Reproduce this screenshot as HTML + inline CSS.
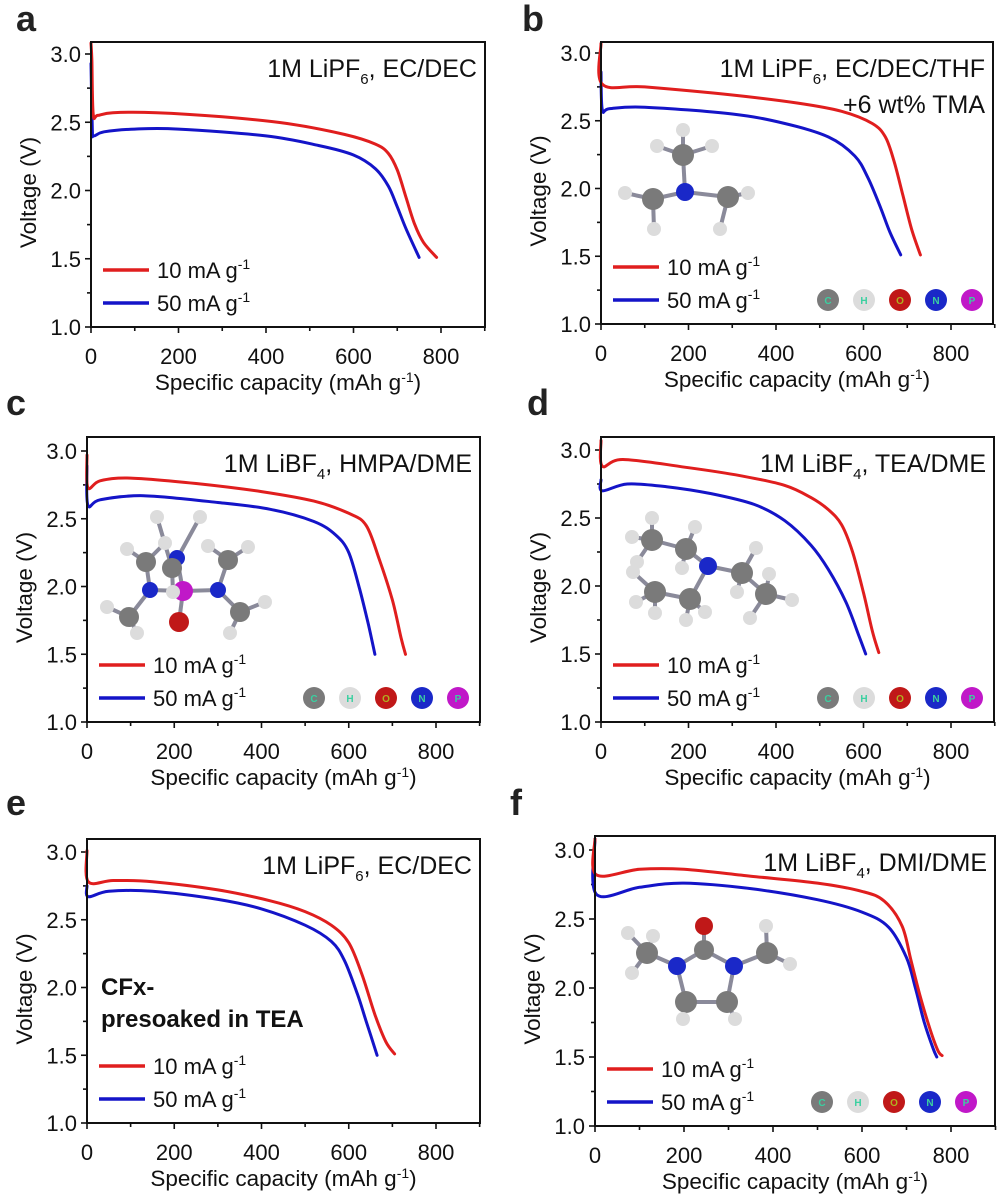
<!DOCTYPE html>
<html><head><meta charset="utf-8"><style>
html,body{margin:0;padding:0;background:#fff;}
svg{display:block;font-family:"Liberation Sans",Arial,sans-serif;}
</style></head><body>
<svg id="fig" width="1003" height="1199" viewBox="0 0 1003 1199" xmlns="http://www.w3.org/2000/svg"></svg>
<script>
// ---- data (capacity mAh/g, voltage V) ----
const xTicks = [0,200,400,600,800];
const yTicks = [1.0,1.5,2.0,2.5,3.0];
const seriesLabels = ["10 mA g","50 mA g"];
const panelLetters = ["a","b","c","d","e","f"];

const capA10 = [0,2,5,15,50,150,300,450,580,650,680,700,720,740,760,790];
const voltA10 = [3.08,2.95,2.56,2.55,2.57,2.57,2.54,2.49,2.41,2.34,2.27,2.15,1.95,1.75,1.62,1.51];
const capA50 = [0,3,6,30,100,200,400,520,600,650,680,700,720,750];
const voltA50 = [2.93,2.45,2.40,2.43,2.45,2.45,2.40,2.33,2.26,2.16,2.03,1.88,1.72,1.51];

const capB10 = [0,3,100,300,450,550,620,650,670,690,710,730];
const voltB10 = [3.07,2.77,2.75,2.69,2.63,2.57,2.48,2.38,2.2,1.95,1.7,1.51];
const capB50 = [0,3,20,100,300,420,520,580,610,640,660,685];
const voltB50 = [2.86,2.58,2.59,2.6,2.55,2.48,2.38,2.24,2.08,1.85,1.68,1.51];

const capC10 = [0,2,30,100,250,400,520,600,640,670,700,720,730];
const voltC10 = [2.97,2.73,2.78,2.80,2.76,2.70,2.63,2.54,2.45,2.2,1.9,1.62,1.5];
const capC50 = [0,2,30,130,300,420,520,570,600,625,645,660];
const voltC50 = [2.89,2.6,2.64,2.67,2.62,2.57,2.48,2.38,2.25,1.98,1.72,1.5];

const capD10 = [0,3,50,200,320,420,480,520,550,575,600,620,635];
const voltD10 = [3.07,2.88,2.93,2.87,2.81,2.74,2.65,2.56,2.45,2.25,1.95,1.67,1.51];
const capD50 = [0,3,60,150,250,350,420,480,520,560,590,605];
const voltD50 = [2.78,2.7,2.75,2.73,2.68,2.6,2.48,2.3,2.12,1.88,1.63,1.5];

const capE10 = [0,3,60,150,300,420,500,560,600,630,660,685,705];
const voltE10 = [3.01,2.78,2.79,2.78,2.72,2.64,2.56,2.46,2.33,2.1,1.8,1.6,1.51];
const capE50 = [0,3,50,150,300,400,500,560,590,620,640,665];
const voltE50 = [2.75,2.67,2.71,2.71,2.65,2.58,2.46,2.34,2.2,1.95,1.75,1.5];

const capF10 = [0,3,100,200,350,500,600,650,690,710,730,750,770,780];
const voltF10 = [3.08,2.82,2.86,2.86,2.81,2.76,2.70,2.63,2.45,2.2,1.95,1.73,1.55,1.51];
const capF50 = [0,3,100,200,350,500,600,660,700,720,740,760,768];
const voltF50 = [3.08,2.68,2.73,2.76,2.72,2.64,2.55,2.44,2.22,2.0,1.75,1.56,1.5];

// ---- layout ----
const panels = [
 {L:91,R:485,top:42,y1:327,y3:54,x8:441,red:[capA10,voltA10],blue:[capA50,voltA50],note:["LiPF","6",", EC/DEC"],atoms:false,mol:null,lx:16,ly:31},
 {L:601,R:993,top:42,y1:324,y3:53,x8:951,red:[capB10,voltB10],blue:[capB50,voltB50],note:["LiPF","6",", EC/DEC/THF"],note2:"+6 wt% TMA",atoms:true,mol:"tma",lx:522,ly:31},
 {L:87,R:480,top:437,y1:722,y3:451,x8:436,red:[capC10,voltC10],blue:[capC50,voltC50],note:["LiBF","4",", HMPA/DME"],atoms:true,mol:"hmpa",lx:6,ly:415},
 {L:601,R:994,top:437,y1:722,y3:450,x8:951,red:[capD10,voltD10],blue:[capD50,voltD50],note:["LiBF","4",", TEA/DME"],atoms:true,mol:"tea",lx:527,ly:415},
 {L:87,R:480,top:839,y1:1123,y3:852,x8:436,red:[capE10,voltE10],blue:[capE50,voltE50],note:["LiPF","6",", EC/DEC"],atoms:false,mol:null,cfx:true,lx:6,ly:815},
 {L:595,R:995,top:836,y1:1126,y3:850,x8:951,red:[capF10,voltF10],blue:[capF50,voltF50],note:["LiBF","4",", DMI/DME"],atoms:true,mol:"dmi",lx:510,ly:815}
];

const NS="http://www.w3.org/2000/svg";
const svg=document.getElementById('fig');
function mk(tag,attrs,parent){const e=document.createElementNS(NS,tag);for(const k in attrs)e.setAttribute(k,attrs[k]);(parent||svg).appendChild(e);return e;}

function smoothPath(pts){
  let d=`M${pts[0][0].toFixed(1)},${pts[0][1].toFixed(1)}`;
  for(let i=0;i<pts.length-1;i++){
    const p0=pts[i-1]||pts[i],p1=pts[i],p2=pts[i+1],p3=pts[i+2]||p2;
    const c1=[p1[0]+(p2[0]-p0[0])/6,p1[1]+(p2[1]-p0[1])/6];
    const c2=[p2[0]-(p3[0]-p1[0])/6,p2[1]-(p3[1]-p1[1])/6];
    d+=` C${c1[0].toFixed(1)},${c1[1].toFixed(1)} ${c2[0].toFixed(1)},${c2[1].toFixed(1)} ${p2[0].toFixed(1)},${p2[1].toFixed(1)}`;
  }
  return d;
}

const atomColors={C:"#7a7a7a",H:"#dcdcdc",O:"#c01818",N:"#1a28c8",P:"#c018c8"};
function ball(g,x,y,r,el){
  const c=mk('circle',{cx:x,cy:y,r:r,fill:atomColors[el]},g);
  
  
}
function bond(g,x1,y1,x2,y2,col){mk('line',{x1,y1,x2,y2,stroke:col||"#999",'stroke-width':4},g);}

function drawMol(g,type){
  let atoms=[],bonds=[];
  if(type==="tma"){
    atoms=[["N",685,192,9],["C",683,155,11],["C",653,199,11],["C",728,197,11],
      ["H",683,130,7],["H",657,146,7],["H",712,146,7],["H",625,193,7],["H",654,229,7],["H",748,193,7],["H",720,229,7]];
    bonds=[[0,1],[0,2],[0,3],[1,4],[1,5],[1,6],[2,7],[2,8],[3,9],[3,10]];
  } else if(type==="hmpa"){
    atoms=[["P",183,591,10],["O",179,622,10],["N",150,590,8],["N",218,590,8],["N",177,558,8],
      ["C",146,562,10],["C",129,617,10],["C",228,560,10],["C",240,612,10],["C",172,568,10],
      ["H",157,517,7],["H",200,517,7],["H",127,549,7],["H",165,543,7],["H",107,607,7],["H",137,633,7],["H",208,546,7],["H",248,547,7],["H",265,602,7],["H",230,633,7],["H",173,592,7]];
    bonds=[[0,1],[0,2],[0,3],[0,4],[2,5],[2,6],[3,7],[3,8],[4,9],[5,12],[5,13],[6,14],[6,15],[7,16],[7,17],[8,18],[8,19],[9,10],[9,11],[9,20]];
  } else if(type==="tea"){
    atoms=[["N",708,566,9],["C",686,549,11],["C",652,540,11],["C",690,599,11],["C",655,592,11],["C",742,573,11],["C",766,594,11],
      ["H",695,527,7],["H",682,568,7],["H",652,518,7],["H",632,537,7],["H",637,562,7],["H",633,572,7],["H",655,613,7],["H",636,602,7],["H",686,620,7],["H",705,612,7],["H",756,548,7],["H",737,592,7],["H",769,574,7],["H",792,600,7],["H",750,618,7]];
    bonds=[[0,1],[1,2],[0,3],[3,4],[0,5],[5,6],[1,7],[1,8],[2,9],[2,10],[2,11],[4,12],[4,13],[4,14],[3,15],[3,16],[5,17],[5,18],[6,19],[6,20],[6,21]];
  } else if(type==="dmi"){
    atoms=[["O",704,926,9],["C",704,950,10],["N",677,966,9],["N",734,966,9],["C",686,1002,11],["C",727,1002,11],["C",647,953,11],["C",767,953,11],
      ["H",653,936,7],["H",628,933,7],["H",632,973,7],["H",766,926,7],["H",790,964,7],["H",683,1019,7],["H",735,1019,7]];
    bonds=[[0,1],[1,2],[1,3],[2,4],[3,5],[4,5],[2,6],[3,7],[6,8],[6,9],[6,10],[7,11],[7,12],[4,13],[5,14]];
  }
  bonds.forEach(b=>bond(g,atoms[b[0]][1],atoms[b[0]][2],atoms[b[1]][1],atoms[b[1]][2],"#8a8a9a"));
  atoms.forEach(a=>ball(g,a[1],a[2],a[3],a[0]));
}

panels.forEach((p,i)=>{
  const g=mk('g',{});
  
  
  const sx=v=>p.L+(v/800)*(p.x8-p.L);
  const sy=v=>p.y1-(v-1)/2*(p.y1-p.y3);

  const lt=mk('text',{x:p.lx,y:p.ly,'font-size':36,'font-weight':'bold',fill:'#222'},g);
  lt.textContent=panelLetters[i];
  
  

  if(p.mol){const mg=mk('g',{},g);drawMol(mg,p.mol);}

  const ax=mk('g',{stroke:'#111','stroke-width':1.6},g);
  
  
  for(let v=0;v<=900;v+=100){const x=sx(v);mk('line',{x1:x,x2:x,y1:p.y1,y2:p.y1+(v%200===0?6:4)},ax);}
  for(let v=1.0;v<=3.01;v+=0.25){const y=sy(v);mk('line',{x1:p.L,x2:p.L-(Math.abs(v*2-Math.round(v*2))<0.01?6:4),y1:y,y2:y},ax);}
  xTicks.forEach(v=>{const t=mk('text',{x:sx(v),y:p.y1+37,'font-size':22,'text-anchor':'middle',fill:'#111'},g);t.textContent=v;
    });
  yTicks.forEach(v=>{const t=mk('text',{x:p.L-10,y:sy(v)+8,'font-size':22,'text-anchor':'end',fill:'#111'},g);t.textContent=v.toFixed(1);
    });

  const xt=mk('text',{x:(p.L+p.R)/2,y:p.y1+63,'font-size':22.5,'text-anchor':'middle',fill:'#111'},g);
  xt.innerHTML='Specific capacity (mAh g<tspan dy="-8" font-size="14">-1</tspan><tspan dy="8">)</tspan>';
  
  const ycx=p.L-55,ycy=(p.top+p.y1)/2+8;
  const yt=mk('text',{x:ycx,y:ycy,'font-size':22.5,'text-anchor':'middle',fill:'#111',transform:`rotate(-90 ${ycx} ${ycy})`},g);
  yt.textContent='Voltage (V)';
  

  [[p.blue,'#1414c8','curve-50ma'],[p.red,'#e01e1e','curve-10ma']].forEach(s=>{
    const pts=s[0][0].map((c,k)=>[sx(c),sy(s[0][1][k])]);
    const path=mk('path',{d:smoothPath(pts),fill:'none',stroke:s[1],'stroke-width':3,'stroke-linejoin':'round','stroke-linecap':'round'},g);
    
    
  });

  const fr=mk('rect',{x:p.L,y:p.top,width:p.R-p.L,height:p.y1-p.top,fill:'none',stroke:'#111','stroke-width':2},g);
  

  const an=mk('text',{x:p.R-8,y:p.top+35,'font-size':25,'text-anchor':'end',fill:'#111'},g);
  an.innerHTML=`1M ${p.note[0]}<tspan dy="7" font-size="15">${p.note[1]}</tspan><tspan dy="-7">${p.note[2]}</tspan>`;
  
  if(p.note2){const a2=mk('text',{x:p.R-8,y:p.top+71,'font-size':25,'text-anchor':'end',fill:'#111'},g);a2.textContent=p.note2;
    }
  if(p.cfx){
    const c1=mk('text',{x:p.L+14,y:p.y1-128,'font-size':24,'font-weight':'bold',fill:'#111'},g);c1.textContent='CFx-';
    
    const c2=mk('text',{x:p.L+14,y:p.y1-96,'font-size':24,'font-weight':'bold',fill:'#111'},g);c2.textContent='presoaked in TEA';
    
  }

  [['#e01e1e',57,0],['#1414c8',24,1]].forEach(l=>{
    const y=p.y1-l[1];
    const ln=mk('line',{x1:p.L+12,x2:p.L+58,y1:y,y2:y,stroke:l[0],'stroke-width':3.5},g);
    
    const t=mk('text',{x:p.L+66,y:y+8,'font-size':22,fill:'#111'},g);
    t.innerHTML=seriesLabels[l[2]]+'<tspan dy="-9" font-size="14">-1</tspan>';
    
  });

  if(p.atoms){
    ['C','H','O','N','P'].forEach((el,k)=>{
      const cx=p.L+227+k*36,cy=p.y1-24;
      ball(g,cx,cy,11,el);
      const t=mk('text',{x:cx,y:cy+4,'font-size':10,'font-weight':'bold','text-anchor':'middle',fill:el==='O'?'#b0b020':'#3ad0a0'},g);
      t.textContent=el;
      
    });
  }
});
</script>
</body></html>
